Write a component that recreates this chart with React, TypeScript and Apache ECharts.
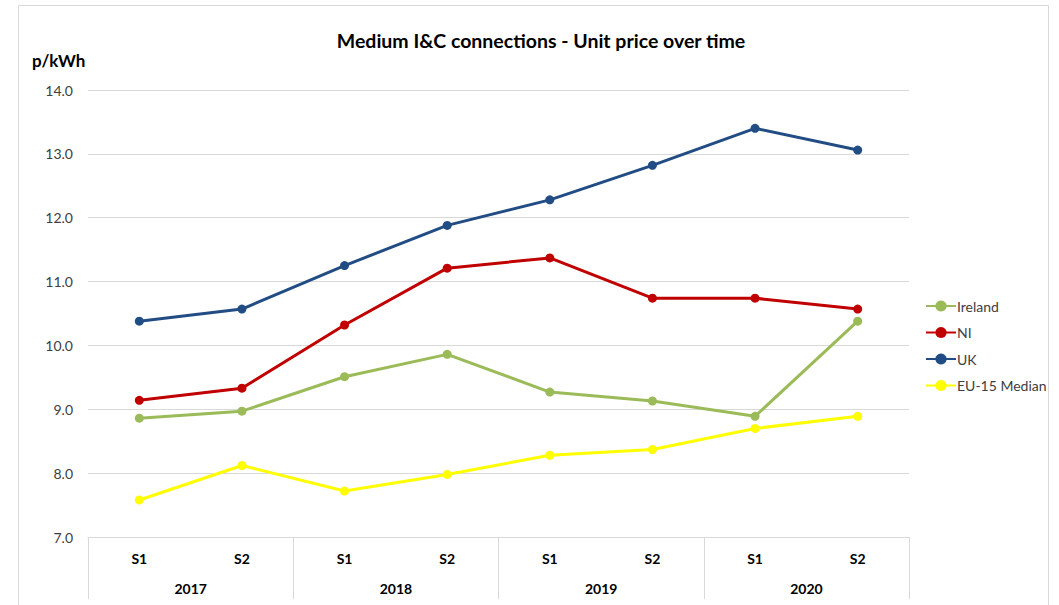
import React, { useEffect, useRef } from "react";
import * as echarts from "echarts";

const halves = ["S1", "S2", "S1", "S2", "S1", "S2", "S1", "S2"];
const years = ["2017", "2018", "2019", "2020"];
const ireland = [8.86, 8.97, 9.51, 9.86, 9.27, 9.13, 8.89, 10.38];
const ni = [9.14, 9.33, 10.32, 11.21, 11.37, 10.74, 10.74, 10.57];
const uk = [10.38, 10.57, 11.25, 11.88, 12.28, 12.82, 13.40, 13.06];
const eu15 = [7.58, 8.12, 7.72, 7.98, 8.28, 8.37, 8.70, 8.89];

const FONT = "Lato, 'Open Sans', sans-serif";

export default function App() {
  const ref = useRef<HTMLDivElement>(null);
  useEffect(() => {
    if (!ref.current) return;
    const chart = echarts.init(ref.current, undefined, { renderer: "svg" });
    const mk = (name: string, data: number[], color: string) => ({
      name,
      type: "line",
      data,
      xAxisIndex: 0,
      symbol: "circle",
      symbolSize: 9,
      lineStyle: { width: 3, color },
      itemStyle: { color },
    });
    chart.setOption({
      animation: false,
      backgroundColor: "#ffffff",
      textStyle: { fontFamily: FONT },
      title: {
        text: "Medium I&C connections - Unit price over time",
        left: 536,
        textAlign: "center",
        top: 25,
        textStyle: { fontSize: 19.5, fontWeight: "bold", color: "#000", fontFamily: FONT },
      },
      graphic: [
        {
          type: "rect",
          shape: { x: 18.5, y: 5.5, width: 1030, height: 620 },
          style: { fill: "none", stroke: "#d9d9d9", lineWidth: 1 },
          silent: true,
        },
        {
          type: "text",
          left: 32,
          top: 52,
          style: { text: "p/kWh", font: "bold 17px " + FONT, fill: "#000" },
        },
      ],
      legend: {
        orient: "vertical",
        left: 920,
        top: 294,
        itemGap: 12.5,
        itemWidth: 30,
        itemHeight: 14,
        data: ["Ireland", "NI", "UK", "EU-15 Median"],
        textStyle: { fontSize: 14, color: "#404040", fontFamily: FONT, padding: [0, 0, 0, -4] },
      },
      grid: { left: 88, right: 150, top: 90, bottom: 68 },
      xAxis: [
        {
          type: "category",
          data: halves,
          position: "bottom",
          axisLine: { show: true, lineStyle: { color: "#d9d9d9", width: 1 } },
          axisTick: { show: false },
          axisLabel: { margin: 14, fontSize: 14, fontWeight: "bold", color: "#000", fontFamily: FONT },
        },
        {
          type: "category",
          data: years,
          position: "bottom",
          axisLine: { show: false },
          axisTick: { show: true, length: 62, lineStyle: { color: "#d9d9d9", width: 1 } },
          axisLabel: { margin: 44, fontSize: 14, fontWeight: "bold", color: "#000", fontFamily: FONT },
        },
      ],
      yAxis: {
        type: "value",
        min: 7,
        max: 14,
        interval: 1,
        axisLine: { show: false },
        axisTick: { show: false },
        axisLabel: {
          margin: 15,
          fontSize: 14,
          color: "#404040",
          fontFamily: FONT,
          formatter: (v: number) => v.toFixed(1),
        },
        splitLine: { lineStyle: { color: "#d9d9d9", width: 1 } },
      },
      series: [
        mk("Ireland", ireland, "#9BBB59"),
        mk("NI", ni, "#C00000"),
        mk("UK", uk, "#224D84"),
        mk("EU-15 Median", eu15, "#FFFF00"),
      ],
    });
    return () => chart.dispose();
  }, []);
  return (
    <div
      ref={ref}
      style={{ position: "absolute", left: 0, top: 0, width: 1059, height: 605 }}
    />
  );
}
